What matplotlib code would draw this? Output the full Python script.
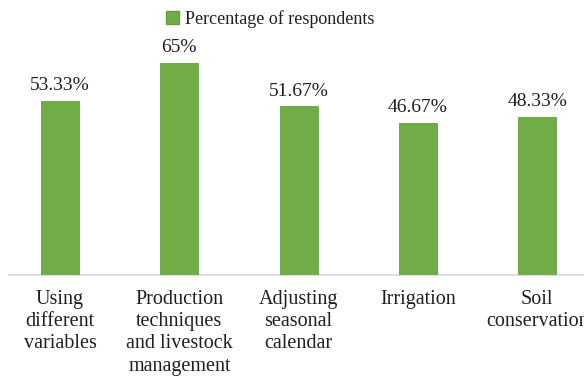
import matplotlib
matplotlib.use("Agg")
import matplotlib.pyplot as plt
from matplotlib.patches import Patch

categories = [
    "Using\ndifferent\nvariables",
    "Production\ntechniques\nand livestock\nmanagement",
    "Adjusting\nseasonal\ncalendar",
    "Irrigation",
    "Soil\nconservation",
]
values = [53.33, 65, 51.67, 46.67, 48.33]
value_labels = ["53.33%", "65%", "51.67%", "46.67%", "48.33%"]
series_name = "Percentage of respondents"

plt.rcParams["font.family"] = ["Liberation Serif", "DejaVu Serif"]

fig = plt.figure(figsize=(5.84, 3.76), dpi=100)
ax = fig.add_axes([9 / 584, 1 - 275 / 376, 575 / 584, 228.3 / 376])

bar_color = "#70ad47"
x = list(range(len(values)))
bars = ax.bar(x, values, width=0.32, color=bar_color, edgecolor="#65a03f", linewidth=0.6, zorder=3)

for b, lab in zip(bars, value_labels):
    ax.annotate(lab, (b.get_x() + b.get_width() / 2, b.get_height()),
                xytext=(0, 5), textcoords="offset points",
                ha="center", va="bottom", fontsize=14, color="#1f1f1f")

ax.set_xlim(-51 / 119.3, (584 - 60) / 119.3)
ax.set_ylim(0, 70)
ax.set_xticks(x)
ax.set_xticklabels(categories, fontsize=14.5, color="#1f1f1f", linespacing=1.22, va="top")
ax.tick_params(axis="x", length=0, pad=11)
ax.set_yticks([])
for s in ["top", "right", "left"]:
    ax.spines[s].set_visible(False)
ax.spines["bottom"].set_color("#d9d9d9")
ax.spines["bottom"].set_linewidth(1.2)

fig.legend(handles=[Patch(facecolor=bar_color, edgecolor="#65a03f", label=series_name)],
           loc="center", bbox_to_anchor=(270 / 584, 1 - 19 / 376), frameon=False,
           fontsize=13, handlelength=0.75, handleheight=0.75, handletextpad=0.3,
           labelcolor="#1f1f1f")

fig.savefig("out.png", dpi=100)
